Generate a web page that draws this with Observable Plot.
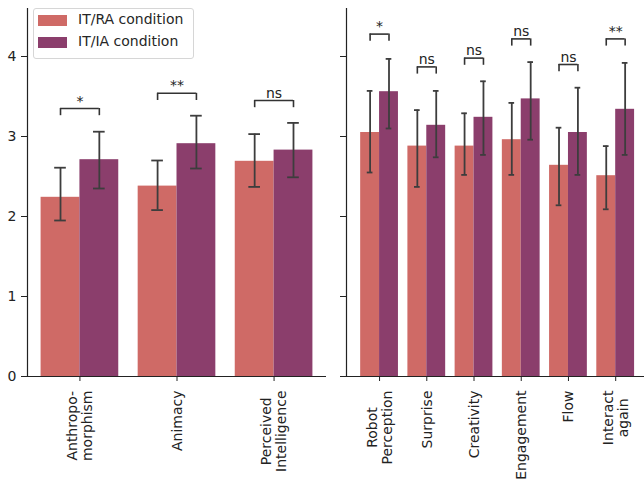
<!DOCTYPE html>
<html>
<head>
<meta charset="utf-8">
<script src="https://cdn.jsdelivr.net/npm/d3@7"></script>
<script src="https://cdn.jsdelivr.net/npm/@observablehq/plot@0.6"></script>
<style>
  body { margin: 0; background: #fff; }
  #wrap { position: relative; width: 644px; height: 485px; font-family: "DejaVu Sans", sans-serif; }
  #wrap svg { position: absolute; top: 0; }
  .legend { position: absolute; left: 33px; top: 8px; width: 159px; height: 49px; border: 1px solid #d6d6d6; border-radius: 3px; background: rgba(255,255,255,0.85); font-size: 14px; color: #262626; }
  .legend .row { position: absolute; left: 4px; height: 12px; }
  .legend .sw { position: absolute; left: 0; top: 0; width: 29px; height: 11px; }
  .legend .lab { position: absolute; left: 40px; top: -4px; white-space: nowrap; }
</style>
</head>
<body>
<div id="wrap"></div>
<script>
// ---- data ----
const conditions = ["IT/RA condition", "IT/IA condition"];
const colors = ["#cf6a66", "#8b3e6c"];

const leftCats = ["Anthropo-\nmorphism", "Animacy", "Perceived\nIntelligence"];
const leftRA = [2.24, 2.38, 2.69];
const leftRAlo = [1.95, 2.08, 2.37];
const leftRAhi = [2.61, 2.70, 3.03];
const leftIA = [2.71, 2.91, 2.83];
const leftIAlo = [2.35, 2.60, 2.49];
const leftIAhi = [3.06, 3.26, 3.17];
const leftSig = ["*", "**", "ns"];
const leftBracket = [3.35, 3.54, 3.45];

const rightCats = ["Robot\nPerception", "Surprise", "Creativity", "Engagement", "Flow", "Interact\nagain"];
const rightRA = [3.05, 2.88, 2.88, 2.96, 2.64, 2.51];
const rightRAlo = [2.55, 2.37, 2.52, 2.52, 2.14, 2.09];
const rightRAhi = [3.57, 3.33, 3.29, 3.42, 3.11, 2.88];
const rightIA = [3.56, 3.14, 3.24, 3.47, 3.05, 3.34];
const rightIAlo = [3.10, 2.74, 2.77, 2.96, 2.52, 2.77];
const rightIAhi = [3.97, 3.57, 3.69, 3.93, 3.61, 3.92];
const rightSig = ["*", "ns", "ns", "ns", "ns", "**"];
const rightBracket = [4.28, 3.87, 3.98, 4.22, 3.90, 4.22];

const yTicks = [0, 1, 2, 3, 4];
const yMax = 4.6;

// ---- helpers ----
const FONT = 14;
const ctx = document.createElement("canvas").getContext("2d");
ctx.font = `${FONT}px "DejaVu Sans"`;
const measure = s => d3.max(s.split("\n"), l => ctx.measureText(l).width);

function panel({cats, ra, raLo, raHi, ia, iaLo, iaHi, sig, bracket, width, left, marginLeft, marginRight, xPad, showYLabels}) {
  const n = cats.length;
  const rows = [];
  cats.forEach((c, i) => {
    rows.push({i, cond: conditions[0], v: ra[i], lo: raLo[i], hi: raHi[i], x1: i - 0.4, x2: i, xc: i - 0.2});
    rows.push({i, cond: conditions[1], v: ia[i], lo: iaLo[i], hi: iaHi[i], x1: i, x2: i + 0.4, xc: i + 0.2});
  });
  const br = cats.map((c, i) => ({i, y: bracket[i], s: sig[i]}));
  const xDomain = [-xPad[0], n - 1 + xPad[1]];
  const drop = 0.09, cap = 0.06;
  const labelMarks = cats.map((c, i) => Plot.text([c], {
    x: () => i, frameAnchor: "bottom", text: d => d, rotate: -90,
    textAnchor: "middle", lineAnchor: "middle", lineHeight: 1.05,
    dy: 14 + measure(c) / 2, fontSize: FONT, fill: "#222"
  }));
  const svg = Plot.plot({
    width, height: 485,
    marginLeft, marginRight, marginTop: 8, marginBottom: 109,
    style: {fontFamily: "DejaVu Sans", fontSize: FONT + "px", color: "#222", background: "transparent", overflow: "visible"},
    x: {type: "linear", domain: xDomain, axis: null},
    y: {domain: [0, yMax], axis: null},
    color: {domain: conditions, range: colors},
    marks: [
      Plot.rectY(rows, {x1: "x1", x2: "x2", y1: 0, y2: "v", fill: "cond"}),
      Plot.ruleX(rows, {x: "xc", y1: "lo", y2: "hi", stroke: "#3d3d3d", strokeWidth: 1.8}),
      Plot.ruleY(rows, {y: "lo", x1: d => d.xc - cap, x2: d => d.xc + cap, stroke: "#3d3d3d", strokeWidth: 1.8}),
      Plot.ruleY(rows, {y: "hi", x1: d => d.xc - cap, x2: d => d.xc + cap, stroke: "#3d3d3d", strokeWidth: 1.8}),
      // significance brackets
      Plot.ruleY(br, {y: "y", x1: d => d.i - 0.2, x2: d => d.i + 0.2, stroke: "#333", strokeWidth: 1.6}),
      Plot.ruleX(br, {x: d => d.i - 0.2, y1: "y", y2: d => d.y - drop, stroke: "#333", strokeWidth: 1.6}),
      Plot.ruleX(br, {x: d => d.i + 0.2, y1: "y", y2: d => d.y - drop, stroke: "#333", strokeWidth: 1.6}),
      Plot.text(br, {x: "i", y: "y", text: "s", lineAnchor: "bottom", dy: -3, fontSize: FONT, fill: "#222"}),
      // axes
      Plot.ruleY([0], {stroke: "#222", strokeWidth: 1.2}),
      Plot.ruleX([xDomain[0]], {y1: 0, y2: yMax, stroke: "#222", strokeWidth: 1.2}),
      Plot.axisY({ticks: yTicks, tickSize: 6, tickPadding: 5, tickFormat: showYLabels ? d3.format("d") : () => "", fontSize: FONT, stroke: "#222"}),
      Plot.axisX({ticks: d3.range(n), tickSize: 5, tickFormat: () => "", stroke: "#222"}),
      ...labelMarks
    ]
  });
  svg.style.left = left + "px";
  return svg;
}

const wrap = document.getElementById("wrap");
wrap.appendChild(panel({
  cats: leftCats, ra: leftRA, raLo: leftRAlo, raHi: leftRAhi,
  ia: leftIA, iaLo: leftIAlo, iaHi: leftIAhi, sig: leftSig, bracket: leftBracket,
  width: 330, left: 0, marginLeft: 27, marginRight: 4, xPad: [0.54, 0.54], showYLabels: true
}));
wrap.appendChild(panel({
  cats: rightCats, ra: rightRA, raLo: rightRAlo, raHi: rightRAhi,
  ia: rightIA, iaLo: rightIAlo, iaHi: rightIAhi, sig: rightSig, bracket: rightBracket,
  width: 314, left: 330, marginLeft: 16, marginRight: 0, xPad: [0.70, 0.61], showYLabels: false
}));

// legend
const leg = document.createElement("div");
leg.className = "legend";
conditions.forEach((c, k) => {
  const row = document.createElement("div");
  row.className = "row";
  row.style.top = (6 + k * 22) + "px";
  const sw = document.createElement("div");
  sw.className = "sw"; sw.style.background = colors[k];
  const lab = document.createElement("div");
  lab.className = "lab"; lab.textContent = c;
  row.appendChild(sw); row.appendChild(lab);
  leg.appendChild(row);
});
wrap.appendChild(leg);
</script>
</body>
</html>
